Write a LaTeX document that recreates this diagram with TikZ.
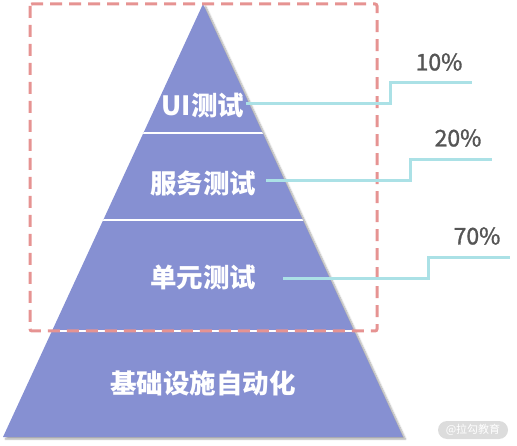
\documentclass[tikz,border=0pt]{standalone}
\usepackage{fontspec}
\newfontfamily\cjk{Noto Sans CJK SC}
\newfontfamily\pctfont{Noto Sans CJK SC}[FakeBold=1.3]
\usetikzlibrary{shadows.blur}
\definecolor{pyr}{HTML}{8690D2}
\definecolor{dashred}{HTML}{E69392}
\definecolor{leader}{HTML}{ABE1E6}
\definecolor{pct}{HTML}{555555}
\definecolor{wm}{HTML}{DCDCDC}
\tikzset{
  layertext/.style={text=white, font=\cjk\bfseries\fontsize{26.5}{30}\selectfont, inner sep=0pt},
  pcttext/.style={text=pct, font=\pctfont\fontsize{23}{26}\selectfont, inner sep=0pt},
  leaderline/.style={draw=leader, line width=3pt},
  sepline/.style={draw=white, line width=2.8pt},
  frame/.style={draw=dashred, line width=3pt, dash pattern=on 12pt off 7pt, rounded corners=2pt},
}
\begin{document}
\begin{tikzpicture}[x=1pt,y=-1pt]
\useasboundingbox (0,0) rectangle (517,446);
% pyramid
\coordinate (apex) at (203,4);
\coordinate (bl) at (3,437);
\coordinate (br) at (403,437);
\fill[pyr, blur shadow={shadow xshift=2.5pt, shadow yshift=-2pt, shadow blur steps=6, shadow opacity=35}] (apex) -- (br) -- (bl) -- cycle;
\begin{scope}
\clip (apex) -- (br) -- (bl) -- cycle;
\draw[sepline] (0,133) -- (517,133);
\draw[sepline] (0,220) -- (517,220);
\draw[sepline] (0,331) -- (517,331);
\end{scope}
% dashed frame
\draw[frame] (30,4) rectangle (377,331);
% layer texts
\node[layertext] (ui) at (203,106) {UI测试};
\node[layertext] (svc) at (203,183) {服务测试};
\node[layertext] (unit) at (203,278) {单元测试};
\node[layertext] (infra) at (203,383) {基础设施自动化};
% leader lines
\coordinate (l1a) at (246,104);
\coordinate (l1b) at (390,104);
\coordinate (l1c) at (390,83);
\coordinate (l1d) at (472,83);
\draw[leaderline] (l1a) -- (l1b) -- (l1c) -- (l1d);
\coordinate (l2a) at (266,181);
\coordinate (l2b) at (410,181);
\coordinate (l2c) at (410,160);
\coordinate (l2d) at (492,160);
\draw[leaderline] (l2a) -- (l2b) -- (l2c) -- (l2d);
\coordinate (l3a) at (283,279);
\coordinate (l3b) at (428,279);
\coordinate (l3c) at (428,258);
\coordinate (l3d) at (510,258);
\draw[leaderline] (l3a) -- (l3b) -- (l3c) -- (l3d);
% percentages
\node[pcttext] (p1) at (439,62) {10\%};
\node[pcttext] (p2) at (458,138) {20\%};
\node[pcttext] (p3) at (477,236) {70\%};
% watermark
\node[fill=wm, rounded corners=9pt, minimum width=70pt, minimum height=18pt, inner sep=0pt, text=white, font=\cjk\fontsize{11}{13}\selectfont] (wmk) at (473,430) {@拉勾教育};
\end{tikzpicture}
\end{document}
